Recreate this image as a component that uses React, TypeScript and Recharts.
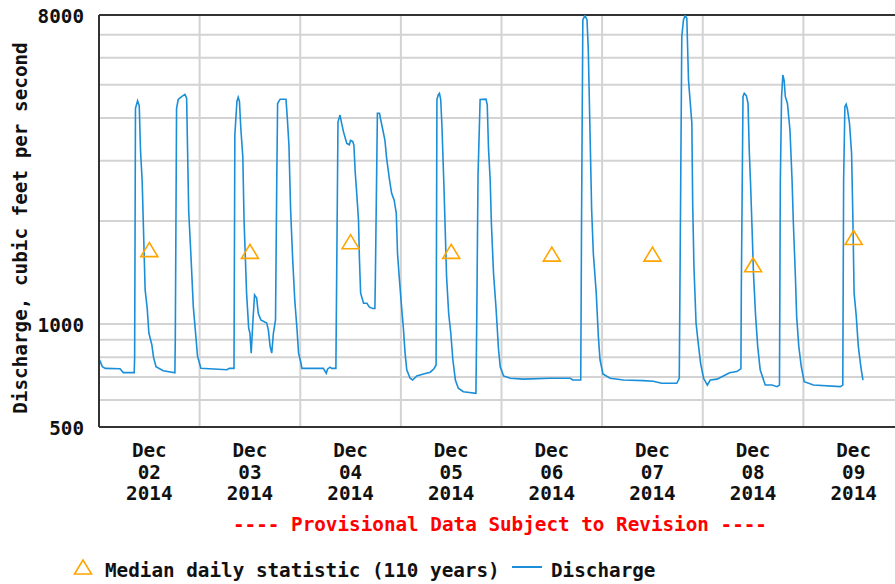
import React from 'react'
import { ComposedChart, Line, Scatter, XAxis, YAxis, CartesianGrid, ReferenceLine } from 'recharts'

// discharge readings, [hours since Dec 02 00:00, cfs]
const dec02 = [
  [0.0, 790], [0.3, 776], [0.8, 750], [1.5, 742], [5.0, 740], [5.8, 721], [8.4, 721], [8.5, 800],
  [8.7, 4270], [9.2, 4490], [9.6, 4340], [9.9, 3220], [10.3, 2610], [11.0, 1260], [11.5, 1110],
  [11.9, 940], [12.6, 870], [13.0, 800], [13.6, 750], [15.3, 730], [18.1, 720], [18.2, 910],
  [18.5, 4270], [18.9, 4530], [19.7, 4620], [20.5, 4690], [20.9, 4570], [21.1, 3340], [21.4, 2130],
  [21.9, 1610], [22.5, 1120], [23.1, 920], [23.5, 805], [24.3, 742],
]
const dec03 = [
  [30.5, 735], [31.1, 742], [32.2, 742], [32.4, 3570], [32.9, 4470], [33.2, 4600], [33.5, 4470],
  [33.8, 3770], [34.3, 3080], [34.6, 2000], [34.9, 1570], [35.2, 1230], [35.7, 972], [36.0, 940],
  [36.3, 822], [36.7, 1015], [37.1, 1216], [37.6, 1190], [38.0, 1073], [38.6, 1028], [40.0, 1007],
  [40.4, 960], [40.8, 862], [41.2, 822], [41.6, 941], [42.1, 1028], [42.4, 2635], [42.6, 4410],
  [43.2, 4540], [44.6, 4540], [44.9, 4025], [45.3, 3335], [45.7, 2160], [46.2, 1540], [46.7, 1170],
  [47.2, 975], [47.6, 822], [48.1, 776], [48.4, 742],
]
const dec04 = [
  [53.5, 742], [54.2, 718], [54.5, 738], [55.1, 748], [55.5, 742], [56.5, 742], [56.7, 1440],
  [57.0, 3900], [57.5, 4080], [57.7, 3950], [58.3, 3650], [59.1, 3370], [59.7, 3340], [60.0, 3440],
  [60.5, 3420], [60.8, 3330], [61.1, 2790], [61.5, 2380], [61.9, 2000], [62.1, 1570], [62.4, 1230],
  [63.1, 1150], [63.9, 1150], [64.5, 1120], [65.3, 1110], [65.8, 1110], [65.9, 1315], [66.4, 4130],
  [66.9, 4130], [67.2, 3950], [67.7, 3690], [68.2, 3440], [68.6, 3050], [69.3, 2635], [69.8, 2410],
  [70.4, 2300], [70.9, 2110], [71.2, 1610], [71.6, 1375], [72.2, 1110], [72.6, 972],
]
const dec05 = [
  [73.0, 822], [73.4, 735], [74.2, 694], [74.8, 686], [75.8, 705], [77.4, 714], [79.0, 723],
  [79.9, 740], [80.4, 759], [80.6, 4530], [80.9, 4670], [81.2, 4720], [81.5, 4530], [81.8, 3770],
  [82.3, 2460], [82.6, 1840], [82.9, 1375], [83.4, 1073], [83.9, 941], [84.4, 786], [85.0, 686],
  [85.7, 649], [86.9, 634], [89.9, 627], [90.1, 1042], [90.4, 2710], [90.9, 4530], [92.3, 4540],
  [92.6, 4370], [92.9, 3260], [93.3, 2635], [93.6, 1950], [94.1, 1406], [94.7, 1110], [95.3, 840],
  [95.7, 750],
]
const dec06 = [
  [96.5, 705], [98.1, 694], [101.2, 690], [107.6, 694], [112.4, 694], [113.0, 686], [114.9, 686],
  [115.1, 2080], [115.4, 7735], [115.9, 7980], [116.4, 7735], [116.7, 6320], [117.1, 3690],
  [117.5, 2160], [117.9, 1610], [118.6, 1230], [119.1, 920], [119.5, 786],
]
const dec07 = [
  [120.2, 714], [121.9, 694], [125.1, 686], [129.9, 683], [132.2, 680], [134.2, 671], [137.8, 671],
  [138.4, 694], [139.0, 6910], [139.4, 7735], [139.8, 7980], [140.2, 7830], [140.6, 5165],
  [141.4, 3860], [141.6, 2250], [141.9, 1470], [142.4, 1007], [143.0, 862], [143.5, 766],
]
const dec08 = [
  [144.2, 694], [145.1, 663], [145.8, 686], [147.4, 690], [148.9, 705], [150.4, 720], [152.1, 726],
  [153.1, 740], [153.2, 1272], [153.6, 4616], [153.9, 4723], [154.4, 4650], [154.8, 4413],
  [155.1, 3190], [155.4, 2578], [155.8, 1840], [156.1, 1406], [156.6, 1059], [157.1, 862],
  [157.7, 735], [158.9, 663], [160.5, 663], [161.7, 656], [162.3, 663], [162.5, 2606], [162.8, 4616],
  [163.1, 5341], [163.4, 5165], [163.7, 4616], [164.2, 4413], [164.8, 3690], [165.3, 2635],
  [165.6, 1990], [166.1, 1375], [166.4, 1050], [166.9, 862], [167.5, 750],
]
const dec09 = [
  [168.2, 678], [170.4, 663], [176.8, 656], [177.4, 663], [177.6, 2635], [177.9, 4317], [178.2, 4388],
  [178.5, 4250], [179.0, 3860], [179.5, 3153], [179.8, 2059], [180.1, 1231], [180.6, 1059],
  [181.1, 862], [181.7, 750], [182.2, 686],
]

const dayLabels = ['02', '03', '04', '05', '06', '07', '08', '09']
const noonHours = [12, 36, 60, 84, 108, 132, 156, 180]
const dayEdges = [0, 24, 48, 72, 96, 120, 144, 168, 192]
const medianCfs = [1650, 1630, 1740, 1630, 1600, 1600, 1490, 1790]
const yTicks = [500, 600, 700, 800, 900, 1000, 2000, 3000, 4000, 5000, 6000, 7000, 8000]
const yLabelled = [500, 1000, 8000]

const discharge = [...dec02, ...dec03, ...dec04, ...dec05, ...dec06, ...dec07, ...dec08, ...dec09].map(
  ([h, v]) => ({ h, v })
)
const medians = noonHours.map((h, i) => ({ h, v: medianCfs[i] }))

const FONT = '"DejaVu Sans Mono", monospace'
const FS = 19.3
const BLUE = '#1b8ed8'
const ORANGE = '#ffa500'

const DayTick = (props: any) => {
  const { x, y, payload } = props
  const i = noonHours.indexOf(payload.value)
  return (
    <text x={x} y={y} textAnchor="middle" fontFamily={FONT} fontWeight="bold" fontSize={FS} fill="#111">
      <tspan x={x} dy={30.4}>Dec</tspan>
      <tspan x={x} dy={21.4}>{dayLabels[i]}</tspan>
      <tspan x={x} dy={21.4}>2014</tspan>
    </text>
  )
}

const CfsTick = (props: any) => {
  const { x, y, payload } = props
  if (!yLabelled.includes(payload.value)) return <g />
  return (
    <text x={x} y={y} dy={8} textAnchor="end" fontFamily={FONT} fontWeight="bold" fontSize={FS} fill="#111">
      {payload.value}
    </text>
  )
}

const Triangle = (props: any) => {
  const { cx, cy } = props
  return (
    <polygon
      points={`${cx},${cy - 7} ${cx - 8.5},${cy + 7} ${cx + 8.5},${cy + 7}`}
      fill="none"
      stroke={ORANGE}
      strokeWidth={1.6}
    />
  )
}

export default function App() {
  return (
    <div style={{ position: 'fixed', left: 0, top: 0, width: 895, height: 584, overflow: 'hidden', background: '#fff' }}>
      <ComposedChart width={920} height={584} margin={{ top: 15, right: 16, bottom: 77, left: 0 }}>
        <CartesianGrid verticalValues={dayEdges} stroke="#d3d3d3" strokeWidth={2} />
        <XAxis
          type="number"
          dataKey="h"
          domain={[0, 192]}
          ticks={noonHours}
          interval={0}
          height={80}
          tickLine={false}
          tickSize={0}
          tickMargin={0}
          tick={<DayTick />}
          axisLine={{ stroke: '#333', strokeWidth: 2 }}
        />
        <YAxis
          type="number"
          dataKey="v"
          scale="log"
          domain={[500, 8000]}
          allowDataOverflow
          ticks={yTicks}
          interval={0}
          width={99}
          tickLine={false}
          tickSize={0}
          tickMargin={15}
          tick={<CfsTick />}
          axisLine={{ stroke: '#333', strokeWidth: 2 }}
        />
        <ReferenceLine y={8000} stroke="#333" strokeWidth={2} />
        <Line
          data={discharge}
          dataKey="v"
          type="linear"
          stroke={BLUE}
          strokeWidth={1.6}
          dot={false}
          isAnimationActive={false}
        />
        <Scatter data={medians} dataKey="v" shape={<Triangle />} isAnimationActive={false} />
      </ComposedChart>
      <svg width={895} height={584} style={{ position: 'absolute', left: 0, top: 0, pointerEvents: 'none' }}>
        <text
          x={20}
          y={228}
          transform="rotate(-90 20 228)"
          textAnchor="middle"
          dominantBaseline="central"
          fontFamily={FONT}
          fontWeight="bold"
          fontSize={FS}
          fill="#111"
        >
          Discharge, cubic feet per second
        </text>
        <text x={500} y={530.5} textAnchor="middle" fontFamily={FONT} fontWeight="bold" fontSize={FS} fill="#ff0000">
          ---- Provisional Data Subject to Revision ----
        </text>
        <polygon points="83,560 74.5,574 91.5,574" fill="none" stroke={ORANGE} strokeWidth={1.6} />
        <text x={105} y={577} fontFamily={FONT} fontWeight="bold" fontSize={FS} fill="#111">
          Median daily statistic (110 years)
        </text>
        <line x1={512} y1={567} x2={542} y2={567} stroke={BLUE} strokeWidth={2} />
        <text x={551} y={577} fontFamily={FONT} fontWeight="bold" fontSize={FS} fill="#111">
          Discharge
        </text>
      </svg>
    </div>
  )
}
